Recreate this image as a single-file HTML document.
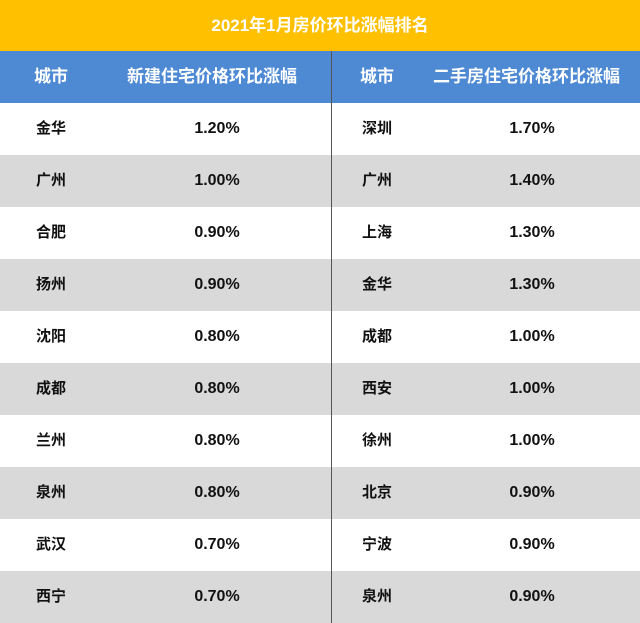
<!DOCTYPE html><html><head><meta charset="utf-8"><style>
body{margin:0;width:640px;height:623px;overflow:hidden;font-family:"Liberation Sans","Noto Sans CJK SC",sans-serif;font-weight:bold;background:#fff}
.t{position:absolute;left:0;top:0;width:640px;height:51px;background:#ffc000;color:#fff;font-size:17px;line-height:51px;text-align:center}
.h{position:absolute;left:0;top:51px;width:640px;height:52px;background:#4e8ad4;color:#fff;font-size:17px}
.r{position:absolute;left:0;width:640px;height:52px;font-size:15px;color:#111}
.g{background:#d9d9d9}
.c{position:absolute;line-height:52px;white-space:nowrap}
.v{position:absolute;line-height:52px;width:160px;text-align:center;font-size:16px}
.d{position:absolute;left:331px;top:51px;width:1px;height:572px;background:#555}
</style></head><body>
<div class="t">2021年1月房价环比涨幅排名</div>
<div class="h"><span class="c" style="left:34px">城市</span><span class="c" style="left:127px">新建住宅价格环比涨幅</span><span class="c" style="left:360px">城市</span><span class="c" style="left:433px">二手房住宅价格环比涨幅</span></div>
<div id="rows"></div>
<div class="d"></div>
<script>
var a=[["金华","1.20%","深圳","1.70%"],["广州","1.00%","广州","1.40%"],["合肥","0.90%","上海","1.30%"],["扬州","0.90%","金华","1.30%"],["沈阳","0.80%","成都","1.00%"],["成都","0.80%","西安","1.00%"],["兰州","0.80%","徐州","1.00%"],["泉州","0.80%","北京","0.90%"],["武汉","0.70%","宁波","0.90%"],["西宁","0.70%","泉州","0.90%"]];
var h="";a.forEach(function(r,i){h+='<div class="r'+(i%2?' g':'')+'" style="top:'+(103+52*i)+'px"><span class="c" style="left:36px">'+r[0]+'</span><span class="v" style="left:137px">'+r[1]+'</span><span class="c" style="left:362px">'+r[2]+'</span><span class="v" style="left:452px">'+r[3]+'</span></div>'});
document.getElementById("rows").innerHTML=h;
</script>
</body></html>
